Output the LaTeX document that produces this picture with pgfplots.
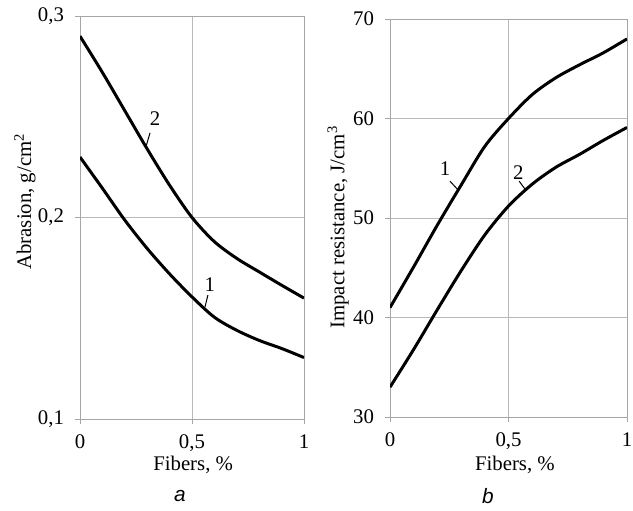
\documentclass[border=0pt]{standalone}
\usepackage{fontspec}
\setmainfont{Liberation Serif}
\newfontfamily\panelfont{Liberation Sans}
\usepackage{pgfplots}
\pgfplotsset{compat=1.18}

\pgfplotsset{
  panel/.style={
    scale only axis,
    font=\fontsize{10.4}{12}\selectfont,
    xmin=0, xmax=1,
    xtick={0,0.5,1},
    grid=major,
    grid style={gray!55, line width=0.5pt},
    axis line style={gray!70, line width=0.5pt},
    tick style={gray!70, line width=0.5pt},
    tick align=outside,
    major tick length=2.5pt,
    xtick pos=bottom, ytick pos=left,
    /pgf/number format/use comma,
    /pgf/number format/assume math mode=true,
    xticklabel style={yshift=-2pt},
    yticklabel style={xshift=-2pt},
    ylabel style={anchor=center},
    xlabel style={anchor=center},
  },
  curve/.style={black, line width=1.5pt, smooth, tension=0.5, no markers},
}

\begin{document}
\begin{tikzpicture}
\useasboundingbox (0,0) rectangle (316.5pt,255pt);

% panel a
\begin{axis}[panel,
  at={(40pt,45.5pt)}, anchor=origin,
  width=112pt, height=201.5pt,
  ymin=0.1, ymax=0.3, ytick={0.1,0.2,0.3},
  xlabel={Fibers, \%}, ylabel={Abrasion, g/cm\textsuperscript{2}},
  xlabel style={at={(axis description cs:0.505,-0.114)}},
  ylabel style={at={(axis description cs:-0.246,0.54)}},
]
\addplot[curve] coordinates {
  (0,0.29) (0.1,0.272) (0.2,0.253) (0.3,0.234) (0.4,0.216) (0.5,0.2)
  (0.6,0.188) (0.7,0.1797) (0.8,0.173) (0.9,0.1664) (1,0.16)};
\addplot[curve] coordinates {
  (0,0.23) (0.1,0.2145) (0.2,0.1987) (0.3,0.1846) (0.4,0.172) (0.5,0.1606)
  (0.6,0.1505) (0.7,0.144) (0.8,0.139) (0.9,0.135) (1,0.1305)};
\draw[black, line width=0.5pt] (axis cs:0.3125,0.242) -- (axis cs:0.293,0.2345);
\node[inner sep=0pt] at (axis cs:0.335,0.249) {2};
\draw[black, line width=0.5pt] (axis cs:0.571,0.1615) -- (axis cs:0.558,0.1556);
\node[inner sep=0pt] at (axis cs:0.58,0.1665) {1};
\end{axis}

% panel b
\begin{axis}[panel,
  at={(195pt,46.5pt)}, anchor=origin,
  width=118.5pt, height=199pt,
  ymin=30, ymax=70, ytick={30,40,50,60,70},
  xlabel={Fibers, \%}, ylabel={Impact resistance, J/cm\textsuperscript{3}},
  xlabel style={at={(axis description cs:0.527,-0.12)}},
  ylabel style={at={(axis description cs:-0.219,0.477)}},
]
\addplot[curve] coordinates {
  (0,41) (0.1,45.1) (0.2,49.3) (0.3,53.3) (0.4,57.2) (0.5,60)
  (0.6,62.4) (0.7,64.1) (0.8,65.4) (0.9,66.6) (1,68)};
\addplot[curve] coordinates {
  (0,33) (0.1,36.8) (0.2,40.8) (0.3,44.7) (0.4,48.3) (0.5,51.2)
  (0.6,53.4) (0.7,55.1) (0.8,56.4) (0.9,57.8) (1,59.1)};
\draw[black, line width=0.5pt] (axis cs:0.253,53.7) -- (axis cs:0.288,52.8);
\node[inner sep=0pt] at (axis cs:0.232,55) {1};
\draw[black, line width=0.5pt] (axis cs:0.545,53.7) -- (axis cs:0.573,52.8);
\node[inner sep=0pt] at (axis cs:0.541,54.6) {2};
\end{axis}

\node[font=\panelfont\itshape\fontsize{10.4}{12}\selectfont] at (90pt,7pt) {a};
\node[font=\panelfont\itshape\fontsize{10.4}{12}\selectfont] at (244pt,7pt) {b};
\end{tikzpicture}
\end{document}
